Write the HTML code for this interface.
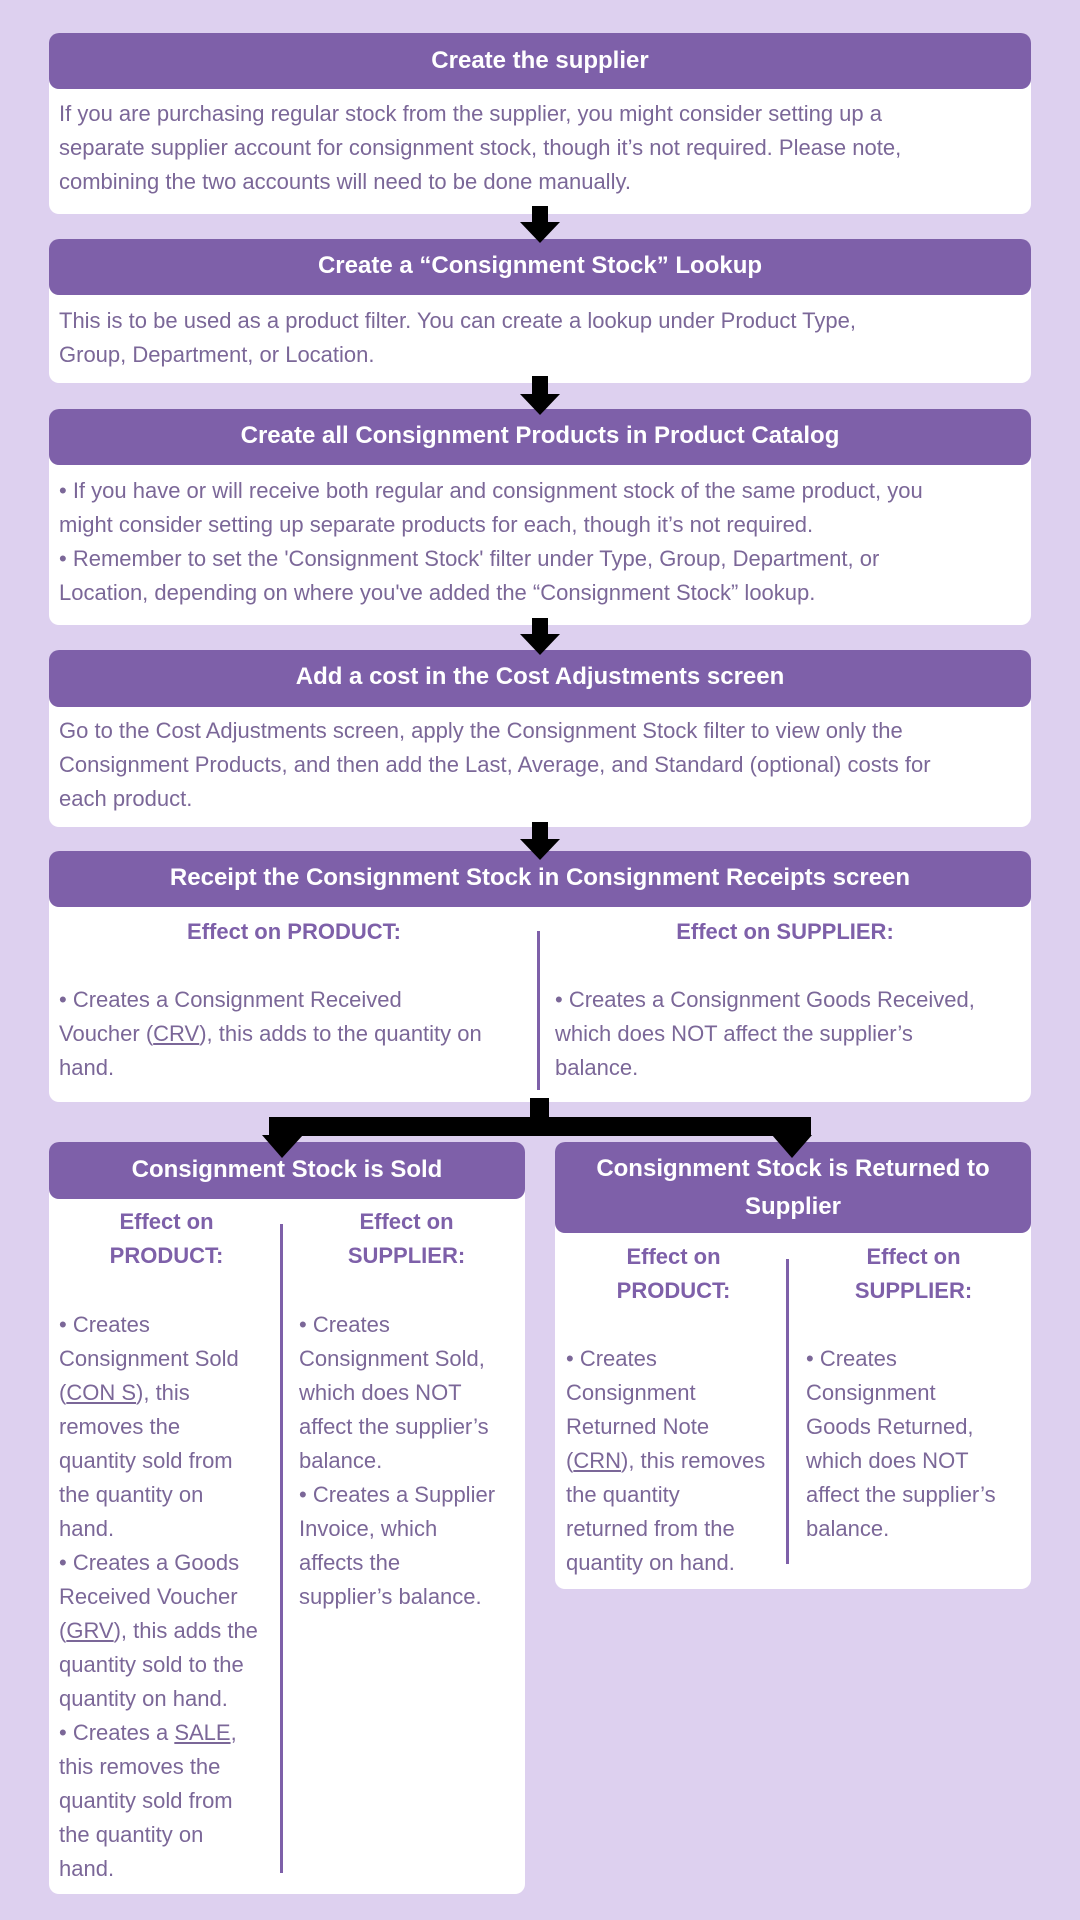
<!DOCTYPE html>
<html><head><meta charset="utf-8">
<style>
*{margin:0;padding:0;box-sizing:border-box}
body{width:1080px;height:1920px;background:#ddd0ef;position:relative;font-family:"Liberation Sans",sans-serif;overflow:hidden}
.box{position:absolute;background:#fff;border-radius:10px}
.hd{position:absolute;background:#7e60a9;border-radius:10px;color:#fff;font-weight:bold;font-size:24px;text-align:center;left:0;right:0;top:0}
.t{position:absolute;color:#7b6798;font-size:22px;line-height:34px;white-space:nowrap}
.h{position:absolute;color:#7e60a9;font-size:22px;line-height:34px;font-weight:bold;text-align:center;white-space:nowrap}
.div{position:absolute;width:3px;background:#7e60a9}
u{text-decoration:underline}
</style></head><body>

<div class="box" style="left:49px;top:33px;width:982px;height:181px">
<div class="hd" style="height:56px;line-height:56px">Create the supplier</div></div>
<div class="t" style="left:59px;top:97px">If you are purchasing regular stock from the supplier, you might consider setting up a<br>separate supplier account for consignment stock, though it’s not required. Please note,<br>combining the two accounts will need to be done manually.</div>

<div class="box" style="left:49px;top:239px;width:982px;height:144px">
<div class="hd" style="height:56px;line-height:54px">Create a “Consignment Stock” Lookup</div></div>
<div class="t" style="left:59px;top:304px">This is to be used as a product filter. You can create a lookup under Product Type,<br>Group, Department, or Location.</div>

<div class="box" style="left:49px;top:409px;width:982px;height:216px">
<div class="hd" style="height:56px;line-height:54px">Create all Consignment Products in Product Catalog</div></div>
<div class="t" style="left:59px;top:474px">• If you have or will receive both regular and consignment stock of the same product, you<br>might consider setting up separate products for each, though it’s not required.<br>• Remember to set the 'Consignment Stock' filter under Type, Group, Department, or<br>Location, depending on where you've added the “Consignment Stock” lookup.</div>

<div class="box" style="left:49px;top:650px;width:982px;height:177px">
<div class="hd" style="height:57px;line-height:54px">Add a cost in the Cost Adjustments screen</div></div>
<div class="t" style="left:59px;top:714px">Go to the Cost Adjustments screen, apply the Consignment Stock filter to view only the<br>Consignment Products, and then add the Last, Average, and Standard (optional) costs for<br>each product.</div>

<div class="box" style="left:49px;top:851px;width:982px;height:251px">
<div class="hd" style="height:56px;line-height:54px">Receipt the Consignment Stock in Consignment Receipts screen</div></div>
<div class="h" style="left:59px;width:470px;top:915px">Effect on PRODUCT:</div>
<div class="h" style="left:550px;width:470px;top:915px">Effect on SUPPLIER:</div>
<div class="div" style="left:537px;top:931px;height:159px"></div>
<div class="t" style="left:59px;top:983px">• Creates a Consignment Received<br>Voucher (<u>CRV</u>), this adds to the quantity on<br>hand.</div>
<div class="t" style="left:555px;top:983px">• Creates a Consignment Goods Received,<br>which does NOT affect the supplier’s<br>balance.</div>

<div class="box" style="left:49px;top:1142px;width:476px;height:752px">
<div class="hd" style="height:57px;line-height:56px">Consignment Stock is Sold</div></div>
<div class="h" style="left:59px;width:215px;top:1205px">Effect on<br>PRODUCT:</div>
<div class="h" style="left:299px;width:215px;top:1205px">Effect on<br>SUPPLIER:</div>
<div class="div" style="left:280px;top:1224px;height:649px"></div>
<div class="t" style="left:59px;top:1308px">• Creates<br>Consignment Sold<br>(<u>CON S</u>), this<br>removes the<br>quantity sold from<br>the quantity on<br>hand.<br>• Creates a Goods<br>Received Voucher<br>(<u>GRV</u>), this adds the<br>quantity sold to the<br>quantity on hand.<br>• Creates a <u>SALE</u>,<br>this removes the<br>quantity sold from<br>the quantity on<br>hand.</div>
<div class="t" style="left:299px;top:1308px">• Creates<br>Consignment Sold,<br>which does NOT<br>affect the supplier’s<br>balance.<br>• Creates a Supplier<br>Invoice, which<br>affects the<br>supplier’s balance.</div>

<div class="box" style="left:555px;top:1142px;width:476px;height:447px">
<div class="hd" style="height:91px;line-height:38px;padding-top:8px">Consignment Stock is Returned to<br>Supplier</div></div>
<div class="h" style="left:566px;width:215px;top:1240px">Effect on<br>PRODUCT:</div>
<div class="h" style="left:806px;width:215px;top:1240px">Effect on<br>SUPPLIER:</div>
<div class="div" style="left:786px;top:1259px;height:305px"></div>
<div class="t" style="left:566px;top:1342px">• Creates<br>Consignment<br>Returned Note<br>(<u>CRN</u>), this removes<br>the quantity<br>returned from the<br>quantity on hand.</div>
<div class="t" style="left:806px;top:1342px">• Creates<br>Consignment<br>Goods Returned,<br>which does NOT<br>affect the supplier’s<br>balance.</div>

<svg width="1080" height="1920" style="position:absolute;left:0;top:0">
<g fill="#000">
<rect x="532" y="206" width="16" height="17"/><polygon points="520,222 560,222 540,243"/>
<rect x="532" y="376" width="16" height="19"/><polygon points="520,394 560,394 540,415"/>
<rect x="532" y="618" width="16" height="17"/><polygon points="520,634 560,634 540,655"/>
<rect x="532" y="822" width="16" height="18"/><polygon points="520,839 560,839 540,860"/>
<rect x="530" y="1098" width="19" height="20"/>
<rect x="269" y="1117" width="542" height="19"/>
<polygon points="262,1135 303,1135 282,1158"/>
<polygon points="772,1135 812,1135 792,1158"/>
</g></svg>
</body></html>
